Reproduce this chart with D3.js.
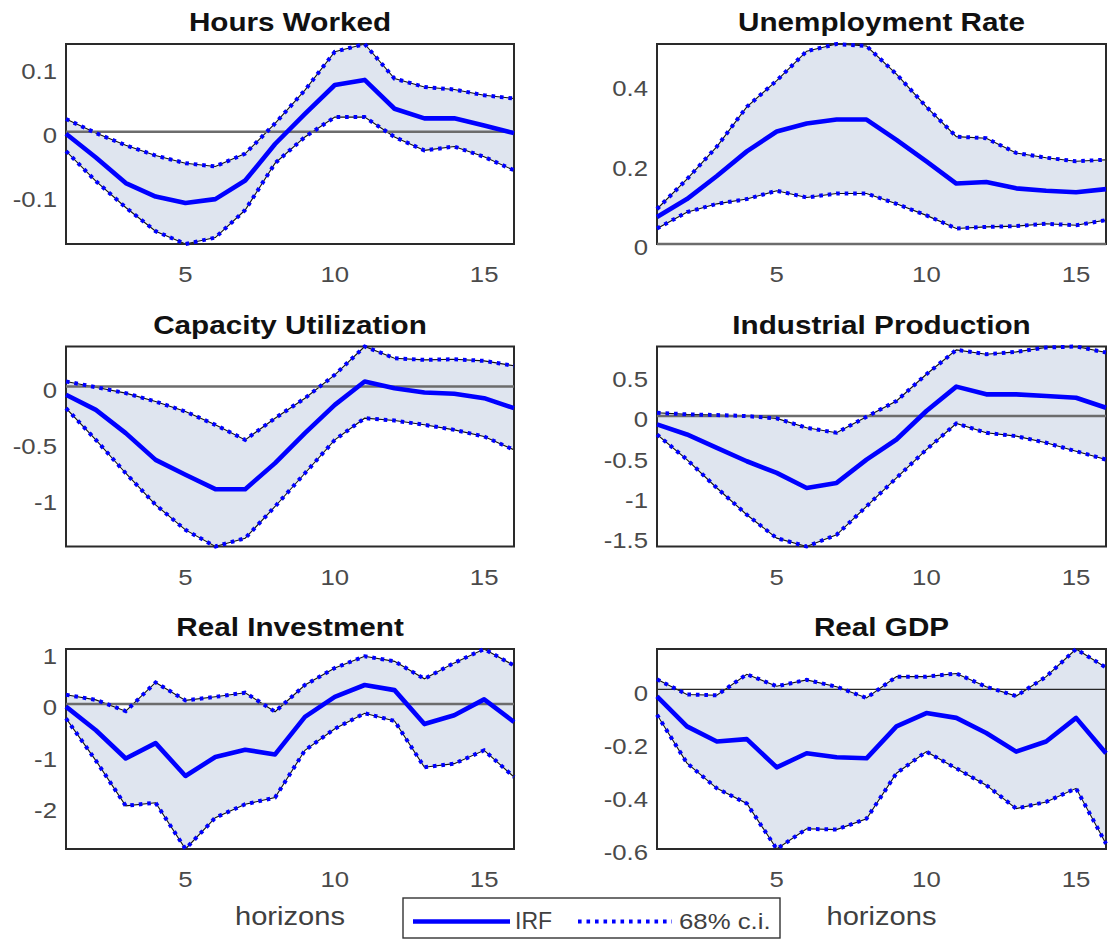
<!DOCTYPE html>
<html>
<head>
<meta charset="utf-8">
<script src="https://cdn.jsdelivr.net/npm/d3@7"></script>
<style>
  body { margin: 0; background: #ffffff; }
  svg { display: block; }
</style>
</head>
<body>
<svg id="chart" width="1110" height="941"></svg>
<script>
// Impulse responses over 16 horizons, with 68% confidence bands
const horizons = d3.range(1, 17);
const horizonTicks = [5, 10, 15];

const hoursIrf   = [-0.003, -0.040, -0.080, -0.101, -0.111, -0.105, -0.076, -0.019, 0.028, 0.073, 0.081, 0.036, 0.021, 0.021, 0.010, -0.002];
const hoursUpper = [0.020, -0.002, -0.021, -0.037, -0.049, -0.054, -0.034, 0.013, 0.065, 0.125, 0.137, 0.083, 0.070, 0.066, 0.057, 0.052];
const hoursLower = [-0.030, -0.077, -0.118, -0.155, -0.175, -0.165, -0.122, -0.049, -0.008, 0.023, 0.023, -0.008, -0.029, -0.023, -0.039, -0.060];
const hoursTicks = [-0.1, 0, 0.1];

const unempIrf   = [0.068, 0.113, 0.171, 0.233, 0.283, 0.303, 0.313, 0.313, 0.262, 0.208, 0.152, 0.156, 0.140, 0.134, 0.130, 0.138];
const unempUpper = [0.088, 0.163, 0.245, 0.345, 0.411, 0.485, 0.503, 0.498, 0.427, 0.345, 0.270, 0.266, 0.229, 0.217, 0.208, 0.212];
const unempLower = [0.039, 0.080, 0.101, 0.113, 0.134, 0.117, 0.127, 0.127, 0.101, 0.072, 0.039, 0.043, 0.045, 0.051, 0.047, 0.060];
const unempTicks = [0, 0.2, 0.4];

const capIrf   = [-0.074, -0.208, -0.415, -0.653, -0.786, -0.914, -0.914, -0.682, -0.415, -0.163, 0.045, -0.015, -0.053, -0.065, -0.104, -0.193];
const capUpper = [0.045, -0.006, -0.059, -0.134, -0.223, -0.341, -0.475, -0.282, -0.104, 0.104, 0.356, 0.252, 0.237, 0.243, 0.228, 0.184];
const capLower = [-0.193, -0.475, -0.772, -1.053, -1.276, -1.424, -1.350, -1.068, -0.772, -0.475, -0.282, -0.303, -0.341, -0.386, -0.445, -0.564];
const capTicks = [-1, -0.5, 0];

const ipIrf   = [-0.104, -0.229, -0.396, -0.563, -0.708, -0.896, -0.833, -0.542, -0.292, 0.063, 0.367, 0.271, 0.271, 0.250, 0.229, 0.104];
const ipUpper = [0.042, 0.021, 0.013, 0.000, -0.029, -0.146, -0.208, -0.008, 0.188, 0.521, 0.825, 0.771, 0.800, 0.854, 0.867, 0.792];
const ipLower = [-0.229, -0.542, -0.896, -1.229, -1.521, -1.625, -1.479, -1.125, -0.771, -0.417, -0.092, -0.208, -0.250, -0.333, -0.438, -0.542];
const ipTicks = [-1.5, -1, -0.5, 0, 0.5];

const invIrf   = [-0.05, -0.51, -1.06, -0.76, -1.40, -1.03, -0.89, -0.98, -0.25, 0.14, 0.37, 0.27, -0.39, -0.22, 0.09, -0.35];
const invUpper = [0.18, 0.08, -0.14, 0.42, 0.07, 0.14, 0.22, -0.15, 0.37, 0.70, 0.93, 0.83, 0.49, 0.80, 1.07, 0.75];
const invLower = [-0.28, -1.10, -1.98, -1.92, -2.82, -2.21, -1.95, -1.82, -0.90, -0.48, -0.18, -0.33, -1.23, -1.16, -0.90, -1.42];
const invTicks = [-2, -1, 0, 1];

const gdpIrf   = [-0.026, -0.139, -0.196, -0.187, -0.293, -0.240, -0.255, -0.259, -0.139, -0.089, -0.107, -0.164, -0.234, -0.196, -0.107, -0.240];
const gdpUpper = [0.038, -0.019, -0.022, 0.057, 0.012, 0.036, 0.010, -0.032, 0.048, 0.048, 0.060, 0.010, -0.025, 0.048, 0.152, 0.082];
const gdpLower = [-0.095, -0.277, -0.372, -0.429, -0.600, -0.524, -0.527, -0.486, -0.315, -0.234, -0.297, -0.360, -0.448, -0.423, -0.372, -0.580];
const gdpTicks = [-0.6, -0.4, -0.2, 0];

const panelTitles = ["Hours Worked", "Unemployment Rate", "Capacity Utilization",
                     "Industrial Production", "Real Investment", "Real GDP"];
const legendLabels = ["IRF", "68% c.i."];
const xAxisLabel = "horizons";

const panels = [
  { title: panelTitles[0], irf: hoursIrf, upper: hoursUpper, lower: hoursLower, ticks: hoursTicks },
  { title: panelTitles[1], irf: unempIrf, upper: unempUpper, lower: unempLower, ticks: unempTicks },
  { title: panelTitles[2], irf: capIrf,   upper: capUpper,   lower: capLower,   ticks: capTicks },
  { title: panelTitles[3], irf: ipIrf,    upper: ipUpper,    lower: ipLower,    ticks: ipTicks },
  { title: panelTitles[4], irf: invIrf,   upper: invUpper,   lower: invLower,   ticks: invTicks },
  { title: panelTitles[5], irf: gdpIrf,   upper: gdpUpper,   lower: gdpLower,   ticks: gdpTicks }
];

// ---- layout and styling ----
const colX = [[66, 514], [657, 1106]];
const rowTop = [44, 346.5, 649];
const boxH = 200;
const FONT = '"Liberation Sans", Arial, Helvetica, sans-serif';
const SX = 1.12;               // glyphs are set slightly wide
const BLUE = "#0000ff";
const BAND_FILL = "rgb(223,229,239)";
const DOTS = "3.6 4.9";
const zeroLineStyle = { default: { stroke: "#6c6c6c", width: 2.5 }, "Real GDP": { stroke: "#262626", width: 1.2 } };

const svg = d3.select("#chart");

function addText(parent, x, y, str, size, anchor, opts = {}) {
  return parent.append("text")
    .attr("transform", `translate(${x},${y}) scale(${opts.sx || SX},1)`)
    .attr("text-anchor", anchor)
    .attr("font-family", FONT)
    .attr("font-size", size)
    .attr("font-weight", opts.bold ? "bold" : "normal")
    .attr("letter-spacing", opts.ls || 0)
    .attr("fill", opts.fill || "#4a4a4a")
    .text(str);
}

panels.forEach((p, i) => {
  const col = i % 2, row = Math.floor(i / 2);
  const [x0, x1] = colX[col];
  const y0 = rowTop[row], y1 = y0 + boxH;

  const lo = Math.min(0, d3.min(p.lower));
  const hi = Math.max(0, d3.max(p.upper));
  const x = d3.scaleLinear().domain([1, 16]).range([x0, x1]);
  const y = d3.scaleLinear().domain([lo, hi]).range([y1, y0]);

  const g = svg.append("g");
  const pts = horizons.map((h, k) => ({ h, irf: p.irf[k], up: p.upper[k], lo: p.lower[k] }));

  // confidence band
  g.append("path")
    .datum(pts)
    .attr("d", d3.area().x(d => x(d.h)).y0(d => y(d.lo)).y1(d => y(d.up)))
    .attr("fill", BAND_FILL)
    .attr("stroke", "#111")
    .attr("stroke-width", 1.1);

  // axes box
  g.append("rect")
    .attr("x", x0).attr("y", y0)
    .attr("width", x1 - x0).attr("height", y1 - y0)
    .attr("fill", "none")
    .attr("stroke", "#2a2a2a")
    .attr("stroke-width", 2);

  // zero reference line
  const zs = zeroLineStyle[p.title] || zeroLineStyle.default;
  g.append("line")
    .attr("x1", x(1)).attr("x2", x(16))
    .attr("y1", y(0)).attr("y2", y(0))
    .attr("stroke", zs.stroke)
    .attr("stroke-width", zs.width);

  // band edges as dotted lines
  ["up", "lo"].forEach(key => {
    g.append("path")
      .datum(pts)
      .attr("d", d3.line().x(d => x(d.h)).y(d => y(d[key])))
      .attr("fill", "none")
      .attr("stroke", BLUE)
      .attr("stroke-width", 4)
      .attr("stroke-dasharray", DOTS);
  });

  // impulse response
  g.append("path")
    .datum(pts)
    .attr("d", d3.line().x(d => x(d.h)).y(d => y(d.irf)))
    .attr("fill", "none")
    .attr("stroke", BLUE)
    .attr("stroke-width", 4.6)
    .attr("stroke-linejoin", "round");

  // y tick labels
  p.ticks.filter(t => t >= lo - 1e-9 && t <= hi + 1e-9)
    .forEach(t => addText(g, x0 - 9, y(t) + 11.3, String(t), 23, "end"));

  // x tick labels
  horizonTicks.forEach(t => addText(g, x(t), y1 + 38, String(t), 23, "middle"));

  // title
  addText(g, (x0 + x1) / 2, y0 - 13, p.title, 26.5, "middle", { bold: true, fill: "#111" });

  // x axis label on the bottom row
  if (row === 2) addText(g, (x0 + x1) / 2, 925, xAxisLabel, 26, "middle", { fill: "#404040" });
});

// legend
const lg = svg.append("g");
lg.append("rect")
  .attr("x", 403).attr("y", 898).attr("width", 377).attr("height", 40)
  .attr("fill", "#fff").attr("stroke", "#333").attr("stroke-width", 1.4);
lg.append("line")
  .attr("x1", 413).attr("x2", 510).attr("y1", 921.5).attr("y2", 921.5)
  .attr("stroke", BLUE).attr("stroke-width", 4.6);
addText(lg, 515, 929, legendLabels[0], 23, "start", { fill: "#404040", sx: 1.0 });
lg.append("line")
  .attr("x1", 578).attr("x2", 672).attr("y1", 921.5).attr("y2", 921.5)
  .attr("stroke", BLUE).attr("stroke-width", 4).attr("stroke-dasharray", DOTS);
addText(lg, 679, 929, legendLabels[1], 23, "start", { fill: "#404040" });
</script>
</body>
</html>
